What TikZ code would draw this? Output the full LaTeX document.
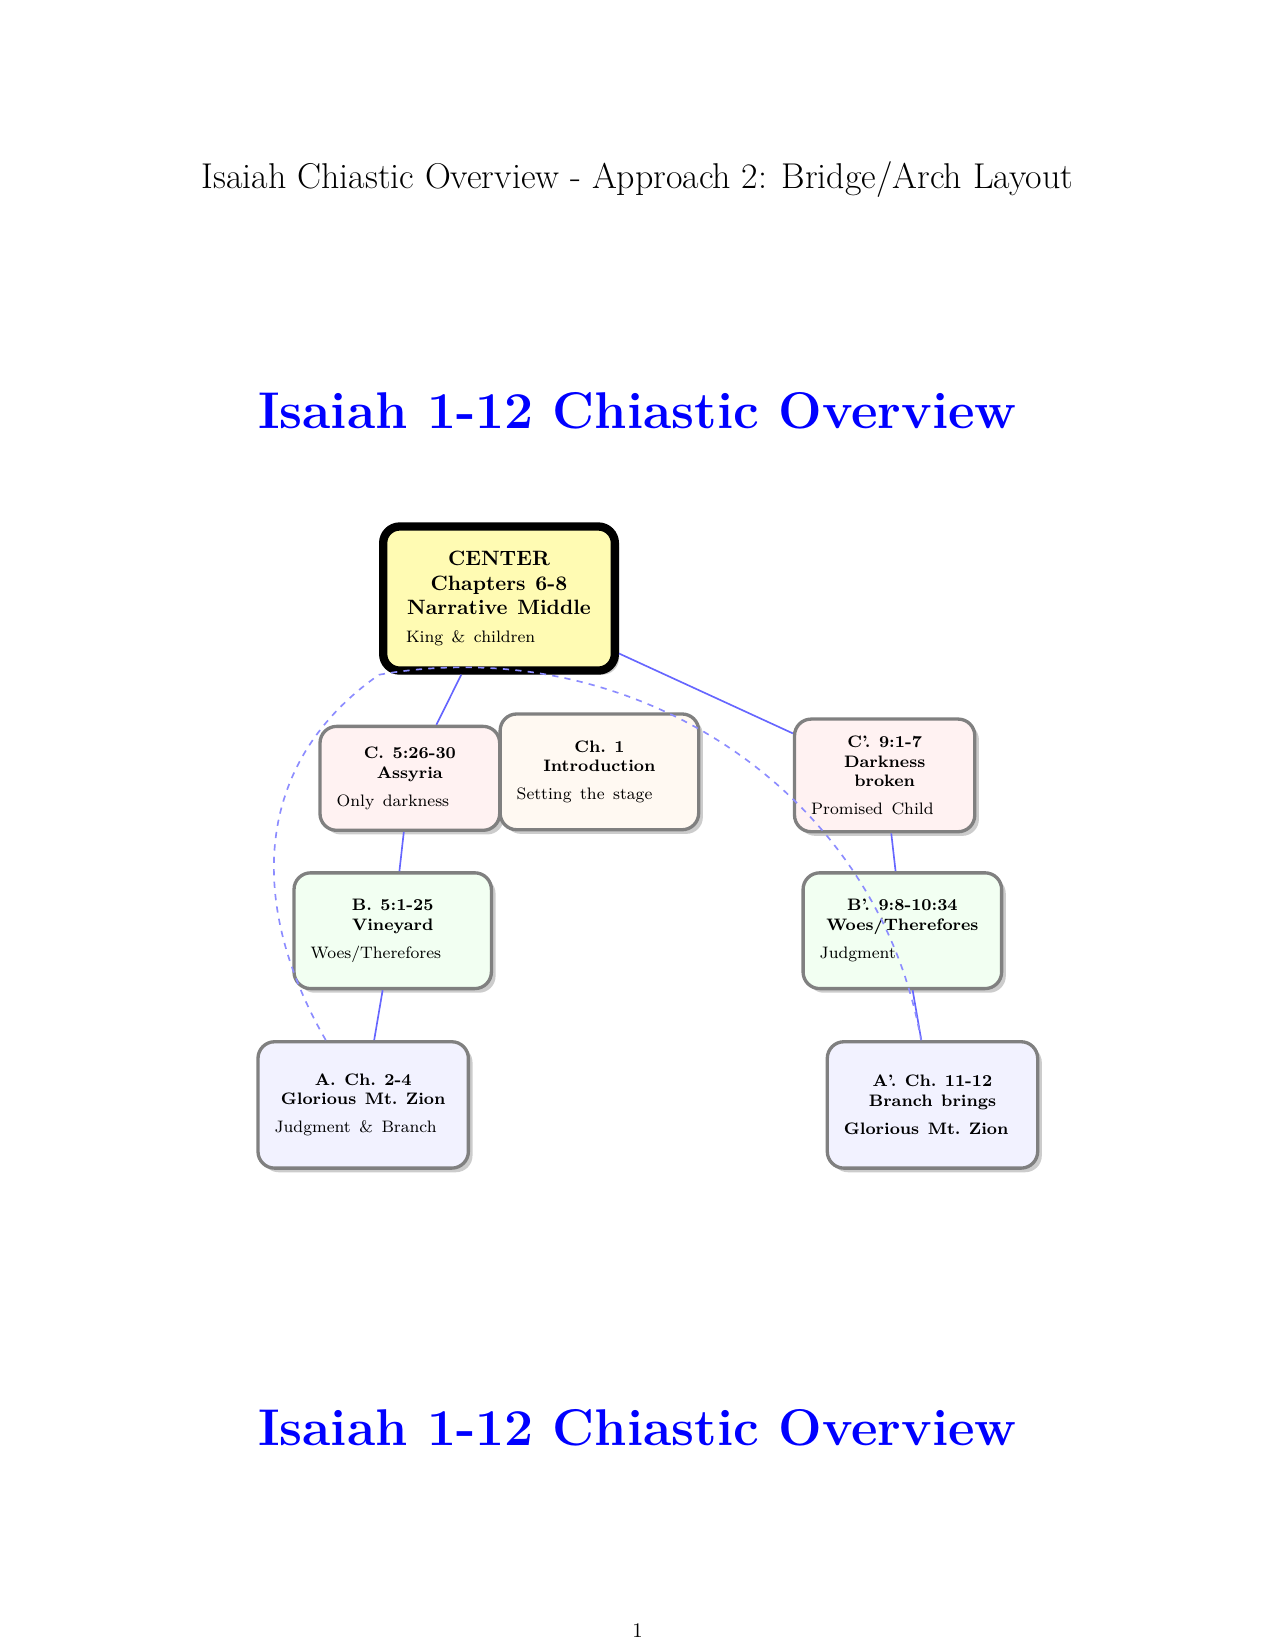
\documentclass[tikz,border=0pt]{standalone}
\usepackage{amsmath}
\usetikzlibrary{shadows}

\begin{document}
\begin{tikzpicture}[
  panel/.style={
    draw=gray, rectangle, line width=1.6pt, rounded corners=8pt,
    inner sep=8pt, align=left, font=\footnotesize,
    execute at begin node={\spaceskip 4.1pt plus 1pt minus 1pt\relax},
    drop shadow={shadow xshift=2pt, shadow yshift=-2pt, fill=black!20, opacity=1}
  },
  centerpanel/.style={
    panel, draw=black, line width=4pt, fill=yellow!30, inner sep=11pt
  },
  link/.style={blue!60, line width=0.8pt},
  arch/.style={blue!45, dashed, line width=0.8pt},
  heading/.style={anchor=base, font=\Huge\bfseries, text=blue}
]
\useasboundingbox (0,0) rectangle (21.59,-27.94);

\node[anchor=base] (pagetitle) at (10.795,-3.20)
  {\LARGE Isaiah Chiastic Overview - Approach 2: Bridge/Arch Layout};
\node[heading] (headtop) at (10.795,-7.25) {Isaiah 1-12 Chiastic Overview};

\node[centerpanel, text width=3.15cm, minimum height=2.44cm] (center) at (8.45,-10.135)
  {{\centering\bfseries\normalsize\spaceskip 4.8pt plus 1pt minus 1pt\relax
    CENTER\\Chapters 6-8\\Narrative Middle\par}\vspace{4pt}King \& children};
\node[panel, fill=red!5, text width=2.48cm, minimum height=1.76cm] (c) at (6.94,-13.18)
  {{\centering\bfseries C. 5:26-30\\Assyria\par}\vspace{4pt}Only darkness};
\node[panel, fill=orange!5, text width=2.8cm, minimum height=1.96cm] (intro) at (10.15,-13.07)
  {{\centering\bfseries Ch. 1\\Introduction\par}\vspace{4pt}Setting the stage};
\node[panel, fill=red!5, text width=2.49cm, minimum height=1.87cm] (cp) at (14.98,-13.13)
  {{\centering\bfseries C'. 9:1-7\\Darkness\\broken\par}\vspace{4pt}Promised Child};
\node[panel, fill=green!5, text width=2.78cm, minimum height=1.96cm] (b) at (6.65,-15.76)
  {{\centering\bfseries B. 5:1-25\\Vineyard\par}\vspace{4pt}Woes/Therefores};
\node[panel, fill=green!5, text width=2.8cm, minimum height=1.96cm] (bp) at (15.28,-15.76)
  {{\centering\bfseries B'. 9:8-10:34\\Woes/Therefores\par}\vspace{4pt}Judgment};
\node[panel, fill=blue!5, text width=3.0cm, minimum height=2.14cm] (a) at (6.15,-18.71)
  {{\centering\bfseries A. Ch. 2-4\\Glorious Mt. Zion\par}\vspace{4pt}Judgment \& Branch};
\node[panel, fill=blue!5, text width=3.0cm, minimum height=2.14cm] (ap) at (15.79,-18.71)
  {{\centering\bfseries A'. Ch. 11-12\\Branch brings\par}\vspace{4pt}\textbf{Glorious Mt. Zion}};

\draw[link] (center) -- (c);
\draw[link] (center) -- (cp);
\draw[link] (c) -- (b);
\draw[link] (b) -- (a);
\draw[link] (cp) -- (bp);
\draw[link] (bp) -- (ap);
\draw[arch] (a) to[out=120, in=215, looseness=1.08] (center.south west)
  to[out=10, in=100] (ap);

\node[heading] (headbottom) at (10.795,-24.48) {Isaiah 1-12 Chiastic Overview};
\node[anchor=base] (pagenum) at (10.795,-27.72) {1};

\end{tikzpicture}
\end{document}
